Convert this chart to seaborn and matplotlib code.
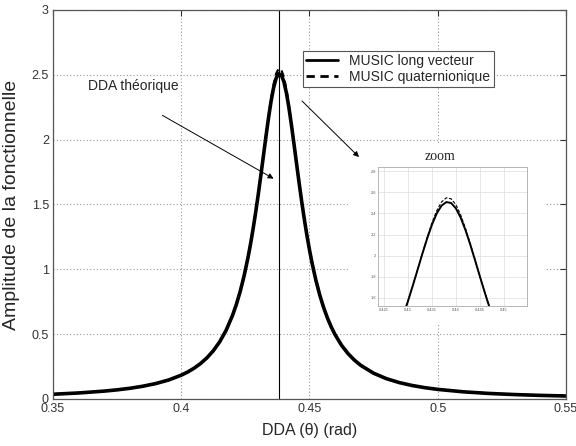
import pandas as pd
import matplotlib
matplotlib.use("Agg")
import matplotlib.pyplot as plt
from matplotlib.patches import Rectangle
from matplotlib.lines import Line2D
import seaborn as sns

# ==========================================
# DATA
# ==========================================
doa = [0.35, 0.36, 0.37, 0.375, 0.38, 0.385, 0.39, 0.395, 0.40, 0.4025, 0.405,
       0.4075, 0.41, 0.4125, 0.415, 0.4175, 0.42, 0.4215, 0.423, 0.4245, 0.426,
       0.427, 0.428, 0.429, 0.430, 0.431, 0.432, 0.433, 0.434, 0.435, 0.436,
       0.437, 0.438, 0.439, 0.440, 0.441, 0.442, 0.443, 0.444, 0.445, 0.446,
       0.447, 0.448, 0.449, 0.450, 0.451, 0.4525, 0.454, 0.4555, 0.457, 0.4585,
       0.46, 0.4625, 0.465, 0.4675, 0.47, 0.475, 0.48, 0.485, 0.49, 0.495, 0.50,
       0.51, 0.52, 0.53, 0.54, 0.55]

music_long = [0.0367, 0.0465, 0.0608, 0.0705, 0.0827, 0.0983, 0.1187, 0.1460, 0.1836,
              0.2080, 0.2373, 0.2730, 0.3170, 0.3719, 0.4412, 0.5299, 0.6448, 0.7301,
              0.8306, 0.9490, 1.0880, 1.1935, 1.310, 1.437, 1.574, 1.719, 1.869,
              2.020, 2.164, 2.294, 2.400, 2.474, 2.508, 2.499, 2.449, 2.361, 2.244,
              2.108, 1.960, 1.809, 1.660, 1.518, 1.385, 1.262, 1.1501, 1.049, 0.9155,
              0.8022, 0.7060, 0.6244, 0.5548, 0.4954, 0.4143, 0.3507, 0.3001, 0.2593,
              0.1987, 0.1567, 0.1265, 0.1042, 0.0872, 0.0741, 0.0553, 0.0428, 0.0341,
              0.0278, 0.0231]

music_quat = [0.0367, 0.0465, 0.0608, 0.0705, 0.0827, 0.0983, 0.1187, 0.1460, 0.1836,
              0.2080, 0.2373, 0.2730, 0.3170, 0.3719, 0.4412, 0.5299, 0.6448, 0.7301,
              0.8306, 0.9490, 1.0880, 1.1935, 1.310, 1.437, 1.574, 1.719, 1.869,
              2.025, 2.174, 2.312, 2.427, 2.509, 2.548, 2.539, 2.484, 2.388, 2.262,
              2.118, 1.965, 1.809, 1.660, 1.518, 1.385, 1.262, 1.1501, 1.049, 0.9155,
              0.8022, 0.7060, 0.6244, 0.5548, 0.4954, 0.4143, 0.3507, 0.3001, 0.2593,
              0.1987, 0.1567, 0.1265, 0.1042, 0.0872, 0.0741, 0.0553, 0.0428, 0.0341,
              0.0278, 0.0231]

doa_theo = 0.4381

x_ticks = [0.35, 0.4, 0.45, 0.5, 0.55]
x_tick_labels = ["0.35", "0.4", "0.45", "0.5", "0.55"]
y_ticks = [0, 0.5, 1, 1.5, 2, 2.5, 3]
y_tick_labels = ["0", "0.5", "1", "1.5", "2", "2.5", "3"]

zoom_x_ticks = [0.425, 0.43, 0.435, 0.44, 0.445, 0.45]
zoom_y_ticks = [1.6, 1.8, 2.0, 2.2, 2.4, 2.6, 2.8]

df = pd.DataFrame({
    "doa": doa * 2,
    "amp": music_long + music_quat,
    "method": ["MUSIC long vecteur"] * len(doa) + ["MUSIC quaternionique"] * len(doa),
})

# ==========================================
# SETTINGS
# ==========================================
sns.set_style("white")
plt.rcParams["font.family"] = ["Liberation Sans", "DejaVu Sans"]

fig = plt.figure(figsize=(5.76, 4.46), dpi=100)
ax = fig.add_axes([0.092, 0.1054, 0.8906, 0.8722])

# ==========================================
# MAIN PLOT
# ==========================================
sns.lineplot(data=df, x="doa", y="amp", hue="method", style="method",
             palette=["black", "black"], dashes=[(1, 0), (3, 2)],
             sort=False, ax=ax, legend=False, zorder=2)
lines = ax.get_lines()
lines[0].set_linewidth(2.6)
lines[1].set_linewidth(1.6)

ax.axvline(doa_theo, color="black", lw=0.8, zorder=1.8)

ax.set_xlim(0.35, 0.55)
ax.set_ylim(0, 3)
ax.set_xticks(x_ticks)
ax.set_xticklabels(x_tick_labels, fontsize=9)
ax.set_yticks(y_ticks)
ax.set_yticklabels(y_tick_labels, fontsize=9)
ax.tick_params(direction="in", length=4, top=True, right=True, pad=3, colors="#333333")
ax.set_axisbelow(True)
ax.grid(True, color="#9a9a9a", linestyle=(0, (1, 2)), linewidth=0.8)
for sp in ax.spines.values():
    sp.set_color("#555555")
    sp.set_linewidth(0.9)

ax.set_xlabel("DDA (θ) (rad)", fontsize=11.5, labelpad=6)
ax.set_ylabel("Amplitude de la fonctionnelle", fontsize=14, labelpad=8)

# legend
handles = [Line2D([], [], color="black", lw=2.0),
           Line2D([], [], color="black", lw=2.0, linestyle=(0, (3, 2)))]
leg = ax.legend(handles, ["MUSIC long vecteur", "MUSIC quaternionique"],
                loc="upper left", bbox_to_anchor=(0.487, 0.895), borderaxespad=0,
                fontsize=10, fancybox=False, framealpha=1, edgecolor="#555555",
                handlelength=2.3, borderpad=0.25, labelspacing=0.1, handletextpad=0.8)
leg.get_frame().set_linewidth(0.8)

# white area behind the pasted zoom picture
ax.add_patch(Rectangle((0.579, 0.190), 0.38, 0.463, transform=ax.transAxes,
                       facecolor="white", edgecolor="none", zorder=0.8))

# annotations
ax.text(0.068, 0.795, "DDA théorique", transform=ax.transAxes, fontsize=10)
ax.annotate("", xy=(276, 446 - 180), xytext=(160, 446 - 114),
            xycoords="figure pixels", textcoords="figure pixels",
            arrowprops=dict(arrowstyle="-|>", color="black", lw=0.7,
                            mutation_scale=8), zorder=3)
ax.annotate("", xy=(361, 446 - 159), xytext=(300, 446 - 99),
            xycoords="figure pixels", textcoords="figure pixels",
            arrowprops=dict(arrowstyle="-|>", color="black", lw=0.7,
                            mutation_scale=8), zorder=3)

# ==========================================
# ZOOM INSET
# ==========================================
axz = fig.add_axes([0.65625, 0.3139, 0.2587, 0.3117], zorder=3)
sns.lineplot(data=df, x="doa", y="amp", hue="method", style="method",
             palette=["black", "black"], dashes=[(1, 0), (3, 1.5)],
             sort=False, ax=axz, legend=False)
zl = axz.get_lines()
zl[0].set_linewidth(1.4)
zl[1].set_linewidth(0.8)
axz.set_xlim(0.4237, 0.4549)
axz.set_ylim(1.524, 2.84)
axz.set_xticks(zoom_x_ticks)
axz.set_xticklabels([f"{t:g}" for t in zoom_x_ticks], fontsize=2.8, color="#555555")
axz.set_yticks(zoom_y_ticks)
axz.set_yticklabels([f"{t:g}" for t in zoom_y_ticks], fontsize=2.8, color="#555555")
axz.tick_params(direction="in", length=1.5, width=0.4, pad=1.5, colors="#999999",
                labelcolor="#555555")
axz.grid(True, color="#dddddd", linewidth=0.5)
axz.set_axisbelow(True)
axz.set_xlabel("")
axz.set_ylabel("")
for sp in axz.spines.values():
    sp.set_color("#aaaaaa")
    sp.set_linewidth(0.6)

fig.text(440 / 576, 1 - 156 / 446, "zoom", ha="center", va="center",
         fontsize=10, family=["Liberation Serif", "DejaVu Serif"])

plt.savefig("out.png", dpi=100)
